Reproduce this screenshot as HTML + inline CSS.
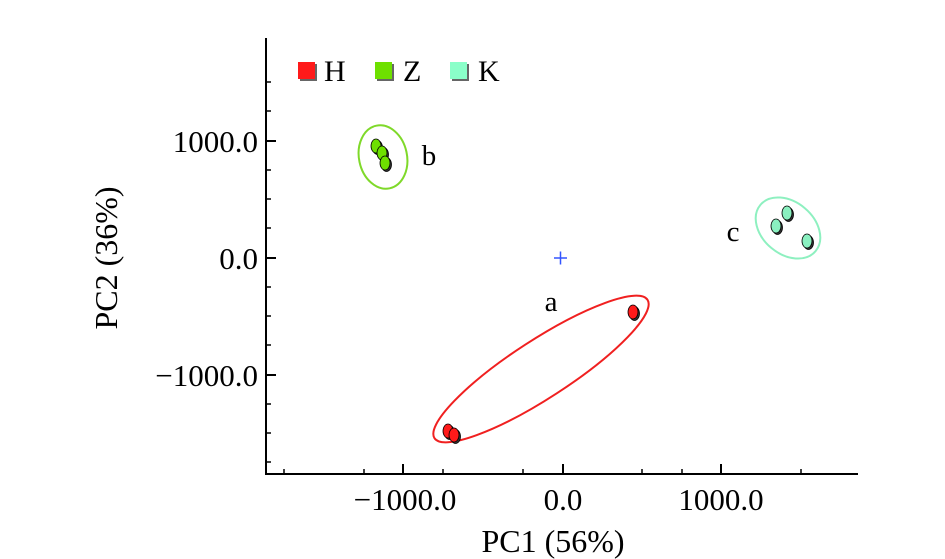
<!DOCTYPE html>
<html><head><style>body{margin:0;background:#fff}svg{display:block}</style></head><body>
<svg width="945" height="559" viewBox="0 0 945 559" xmlns="http://www.w3.org/2000/svg" font-family="'Liberation Serif',serif">
<defs>
<g id="pt"><ellipse cx="1.5" cy="1.5" rx="5" ry="7" fill="#333"/></g>
</defs>
<path d="M266 38V474H858" fill="none" stroke="#000" stroke-width="2"/>
<g stroke="#000" stroke-width="1.5">
<line x1="266" y1="141" x2="276" y2="141" stroke-width="2"/>
<line x1="266" y1="258" x2="276" y2="258" stroke-width="2"/>
<line x1="266" y1="375" x2="276" y2="375" stroke-width="2"/>
<line x1="266" y1="82" x2="271" y2="82"/><line x1="266" y1="111" x2="271" y2="111"/>
<line x1="266" y1="170" x2="271" y2="170"/><line x1="266" y1="199" x2="271" y2="199"/>
<line x1="266" y1="228" x2="271" y2="228"/><line x1="266" y1="287" x2="271" y2="287"/>
<line x1="266" y1="316" x2="271" y2="316"/><line x1="266" y1="345" x2="271" y2="345"/>
<line x1="266" y1="404" x2="271" y2="404"/><line x1="266" y1="433" x2="271" y2="433"/>
<line x1="266" y1="462" x2="271" y2="462"/>
<line x1="403" y1="474" x2="403" y2="464" stroke-width="2"/>
<line x1="563" y1="474" x2="563" y2="464" stroke-width="2"/>
<line x1="721" y1="474" x2="721" y2="464" stroke-width="2"/>
<line x1="284" y1="474" x2="284" y2="469"/><line x1="364" y1="474" x2="364" y2="469"/>
<line x1="443" y1="474" x2="443" y2="469"/><line x1="523" y1="474" x2="523" y2="469"/>
<line x1="642" y1="474" x2="642" y2="469"/><line x1="682" y1="474" x2="682" y2="469"/>
<line x1="801" y1="474" x2="801" y2="469"/>
</g>
<g font-size="31" fill="#000">
<text x="258" y="152" text-anchor="end">1000.0</text>
<text x="258" y="269" text-anchor="end">0.0</text>
<text x="258" y="386" text-anchor="end">−1000.0</text>
<text x="405" y="510" text-anchor="middle">−1000.0</text>
<text x="563" y="510" text-anchor="middle">0.0</text>
<text x="721" y="510" text-anchor="middle">1000.0</text>
<text x="553" y="552" text-anchor="middle" font-size="32">PC1 (56%)</text>
<text transform="translate(117,258) rotate(-90)" text-anchor="middle" font-size="32">PC2 (36%)</text>
<text x="551" y="311" text-anchor="middle" font-size="29">a</text>
<text x="429" y="165" text-anchor="middle" font-size="29">b</text>
<text x="733" y="241" text-anchor="middle" font-size="29">c</text>
</g>
<rect x="300" y="64" width="17" height="17" fill="#666"/><rect x="298" y="62" width="17" height="17" fill="#ff1a1a"/>
<text x="324" y="81" font-size="30">H</text>
<rect x="377" y="64" width="17" height="17" fill="#666"/><rect x="375" y="62" width="17" height="17" fill="#6ee000"/>
<text x="403" y="81" font-size="30">Z</text>
<rect x="452" y="64" width="17" height="17" fill="#666"/><rect x="450" y="62" width="17" height="17" fill="#8affc9"/>
<text x="478" y="81" font-size="30">K</text>
<path d="M554 258H567M560.5 251.5V264.5" stroke="#3355ff" stroke-width="1.5"/>
<ellipse cx="383" cy="157" rx="24" ry="32" transform="rotate(-12 383 157)" fill="none" stroke="#7fd92a" stroke-width="2"/>
<ellipse cx="788" cy="228" rx="36" ry="26" transform="rotate(40 788 228)" fill="none" stroke="#8ef0c0" stroke-width="2"/>
<ellipse cx="541" cy="369" rx="127" ry="29" transform="rotate(-33 541 369)" fill="none" stroke="#f02020" stroke-width="2"/>
<g stroke="#000" stroke-width="0.8">
<use href="#pt" x="376" y="146"/><ellipse cx="376" cy="146" rx="5" ry="7" fill="#6ee000"/>
<use href="#pt" x="382" y="153"/><ellipse cx="382" cy="153" rx="5" ry="7" fill="#6ee000"/>
<use href="#pt" x="385" y="163"/><ellipse cx="385" cy="163" rx="5" ry="7" fill="#6ee000"/>
<use href="#pt" x="776" y="226"/><ellipse cx="776" cy="226" rx="5" ry="7" fill="#8af0c0"/>
<use href="#pt" x="787" y="213"/><ellipse cx="787" cy="213" rx="5" ry="7" fill="#8af0c0"/>
<use href="#pt" x="807" y="241"/><ellipse cx="807" cy="241" rx="5" ry="7" fill="#8af0c0"/>
<use href="#pt" x="633" y="312"/><ellipse cx="633" cy="312" rx="5" ry="7" fill="#ff1a1a"/>
<use href="#pt" x="448" y="431"/><ellipse cx="448" cy="431" rx="5" ry="7" fill="#ff1a1a"/>
<use href="#pt" x="454" y="435"/><ellipse cx="454" cy="435" rx="5" ry="7" fill="#ff1a1a"/>
</g>
</svg>
</body></html>
